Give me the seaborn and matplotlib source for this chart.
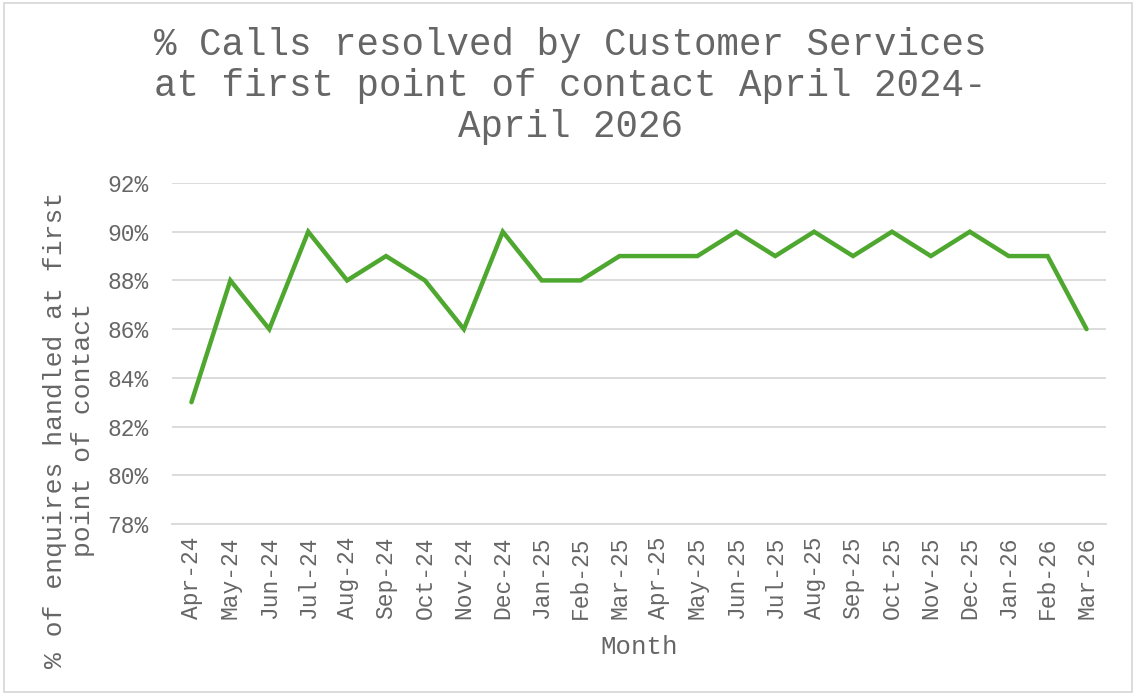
import matplotlib
matplotlib.use("Agg")
import matplotlib.pyplot as plt
from matplotlib.patches import Rectangle
from matplotlib.ticker import FixedLocator
import seaborn as sns
import pandas as pd

months = ["Apr-24", "May-24", "Jun-24", "Jul-24", "Aug-24", "Sep-24", "Oct-24", "Nov-24",
          "Dec-24", "Jan-25", "Feb-25", "Mar-25", "Apr-25", "May-25", "Jun-25", "Jul-25",
          "Aug-25", "Sep-25", "Oct-25", "Nov-25", "Dec-25", "Jan-26", "Feb-26", "Mar-26"]
resolved_pct = [83, 88, 86, 90, 88, 89, 88, 86, 90, 88, 88, 89, 89, 89, 90, 89,
                90, 89, 90, 89, 90, 89, 89, 86]
y_ticks = [78, 80, 82, 84, 86, 88, 90, 92]
y_tick_labels = [f"{v}%" for v in y_ticks]

title_text = "% Calls resolved by Customer Services\nat first point of contact April 2024-\nApril 2026"
xlabel_text = "Month"
ylabel_text = "% of enquires handled at first\npoint of contact"

sns.set_theme(style="white")
plt.rcParams["font.family"] = ["Liberation Mono", "DejaVu Sans Mono"]

TXT = "#666666"
GRID = "#d9d9d9"
GREEN = "#4ea72e"

df = pd.DataFrame({"pos": list(range(len(months))), "month": months, "value": resolved_pct})

fig = plt.figure(figsize=(11.36, 6.95), dpi=100)
ax = fig.add_axes([172 / 1136, 1 - 524 / 695, (1106 - 172) / 1136, (524 - 183) / 695])

sns.lineplot(data=df, x="pos", y="value", ax=ax, color=GREEN, linewidth=3.2,
             sort=False, solid_capstyle="round", solid_joinstyle="miter")

ax.set_xlim(-0.5, len(months) - 0.5)
ax.set_ylim(78, 92)
ax.set_yticks(y_ticks)
ax.set_yticklabels(y_tick_labels)
ax.set_xticks(df["pos"])
ax.set_xticklabels(months, rotation=90)
ax.xaxis.set_minor_locator(FixedLocator([i - 0.5 for i in range(len(months) + 1)]))

ax.grid(axis="y", color=GRID, linewidth=1.3)
ax.set_axisbelow(True)
for s in ["left", "right", "top"]:
    ax.spines[s].set_visible(False)
ax.spines["bottom"].set_color(GRID)
ax.spines["bottom"].set_linewidth(1.3)

ax.tick_params(axis="x", which="major", length=0, pad=9, labelsize=16.5, labelcolor=TXT)
ax.tick_params(axis="x", which="minor", length=6, width=1.3, color=GRID, direction="out")
ax.tick_params(axis="y", length=0, pad=17, labelsize=16.5, labelcolor=TXT)

ax.set_xlabel(xlabel_text, fontsize=18.5, color=TXT)
ax.xaxis.set_label_coords(0.5, (524 - 647) / 341)
ax.xaxis.label.set_va("center")
ax.set_ylabel(ylabel_text, fontsize=19, color=TXT, multialignment="center")
ax.yaxis.label.set_va("center")
ax.yaxis.set_label_coords((69 - 172) / 934, (524 - 430) / 341)

fig.text(570 / 1136, 1 - 86 / 695, title_text, ha="center", va="center",
         fontsize=27, color=TXT, multialignment="center", linespacing=1.17)

fig.patches.append(Rectangle((4 / 1136, 3 / 695), 1 - 8 / 1136, 1 - 6 / 695,
                             transform=fig.transFigure, fill=False,
                             edgecolor=GRID, linewidth=1.3))

fig.savefig("out.png", dpi=100, facecolor="white")
